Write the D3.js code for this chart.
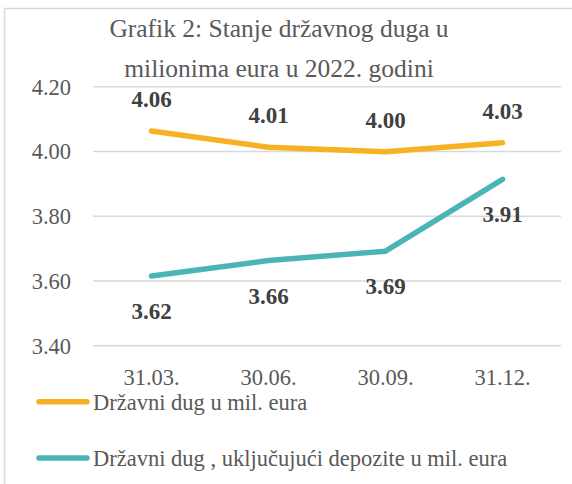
<!DOCTYPE html>
<html>
<head>
<meta charset="utf-8">
<script src="https://cdn.jsdelivr.net/npm/d3@7"></script>
<style>
  body { margin: 0; background: #fff; }
  svg { display: block; }
</style>
</head>
<body>
<div id="chart"></div>
<script>
// podaci
var kategorije = ['31.03.', '30.06.', '30.09.', '31.12.'];
var dug = [4.063, 4.013, 3.999, 4.027];
var dugDepoziti = [3.615, 3.663, 3.692, 3.914];
var yTicks = [3.40, 3.60, 3.80, 4.00, 4.20];
var nazivi = ['Državni dug u mil. eura', 'Državni dug , uključujući depozite u mil. eura'];
var boje = ['#f8b124', '#4bb5b5'];

var width = 572, height = 484;
var font = '"Liberation Serif", serif';
var sivo = '#595959';

var svg = d3.select('#chart').append('svg')
    .attr('width', width)
    .attr('height', height);

// okvir
svg.append('rect')
    .attr('x', 4.5).attr('y', 8.5)
    .attr('width', width + 10).attr('height', height + 10)
    .attr('fill', 'none')
    .attr('stroke', '#d9d9d9')
    .attr('stroke-width', 1.5);

// naslov
var naslov = svg.append('text')
    .attr('text-anchor', 'middle')
    .attr('fill', sivo)
    .style('font-family', font)
    .style('font-size', '25.5px');
naslov.append('tspan').attr('x', 279).attr('y', 37).text('Grafik 2: Stanje državnog duga u');
naslov.append('tspan').attr('x', 279).attr('y', 77).text('milionima eura u 2022. godini');

var x = d3.scaleBand().domain(kategorije).range([93, 561]);
var y = d3.scaleLinear().domain([3.40, 4.20]).range([345.7, 86.7]);

// mreža
svg.selectAll('.grid')
    .data(yTicks)
    .enter().append('line')
    .attr('x1', 93).attr('x2', 561)
    .attr('y1', function (d) { return y(d); })
    .attr('y2', function (d) { return y(d); })
    .attr('stroke', '#d9d9d9')
    .attr('stroke-width', 1.5);

// y osa
svg.selectAll('.ytick')
    .data(yTicks)
    .enter().append('text')
    .attr('x', 71)
    .attr('y', function (d) { return y(d); })
    .attr('dy', '0.35em')
    .attr('text-anchor', 'end')
    .attr('fill', sivo)
    .style('font-family', font)
    .style('font-size', '22.5px')
    .text(function (d) { return d.toFixed(2); });

// x osa
svg.selectAll('.xtick')
    .data(kategorije)
    .enter().append('text')
    .attr('x', function (d) { return x(d) + x.bandwidth() / 2; })
    .attr('y', 385)
    .attr('text-anchor', 'middle')
    .attr('fill', sivo)
    .style('font-family', font)
    .style('font-size', '22.5px')
    .text(function (d) { return d; });

var linija = d3.line()
    .x(function (d, i) { return x(kategorije[i]) + x.bandwidth() / 2; })
    .y(function (d) { return y(d); });

var serije = [dug, dugDepoziti];
var pomak = [-24, 43];

serije.forEach(function (s, k) {
    svg.append('path')
        .datum(s)
        .attr('d', linija)
        .attr('fill', 'none')
        .attr('stroke', boje[k])
        .attr('stroke-width', 5.5)
        .attr('stroke-linecap', 'round')
        .attr('stroke-linejoin', 'round');

    svg.selectAll('.lab' + k)
        .data(s)
        .enter().append('text')
        .attr('x', function (d, i) { return x(kategorije[i]) + x.bandwidth() / 2; })
        .attr('y', function (d) { return y(d) + pomak[k]; })
        .attr('text-anchor', 'middle')
        .attr('fill', '#404040')
        .style('font-family', font)
        .style('font-size', '23px')
        .style('font-weight', 'bold')
        .text(function (d) { return d.toFixed(2); });
});

// legenda
var legenda = svg.selectAll('.leg')
    .data(nazivi)
    .enter().append('g')
    .attr('transform', function (d, i) { return 'translate(0,' + (401.7 + i * 56.3) + ')'; });

legenda.append('line')
    .attr('x1', 39).attr('x2', 87)
    .attr('stroke', function (d, i) { return boje[i]; })
    .attr('stroke-width', 5.5)
    .attr('stroke-linecap', 'round');

legenda.append('text')
    .attr('x', 93)
    .attr('y', 8)
    .attr('fill', sivo)
    .style('font-family', font)
    .style('font-size', '22.5px')
    .text(function (d) { return d; });
</script>
</body>
</html>
